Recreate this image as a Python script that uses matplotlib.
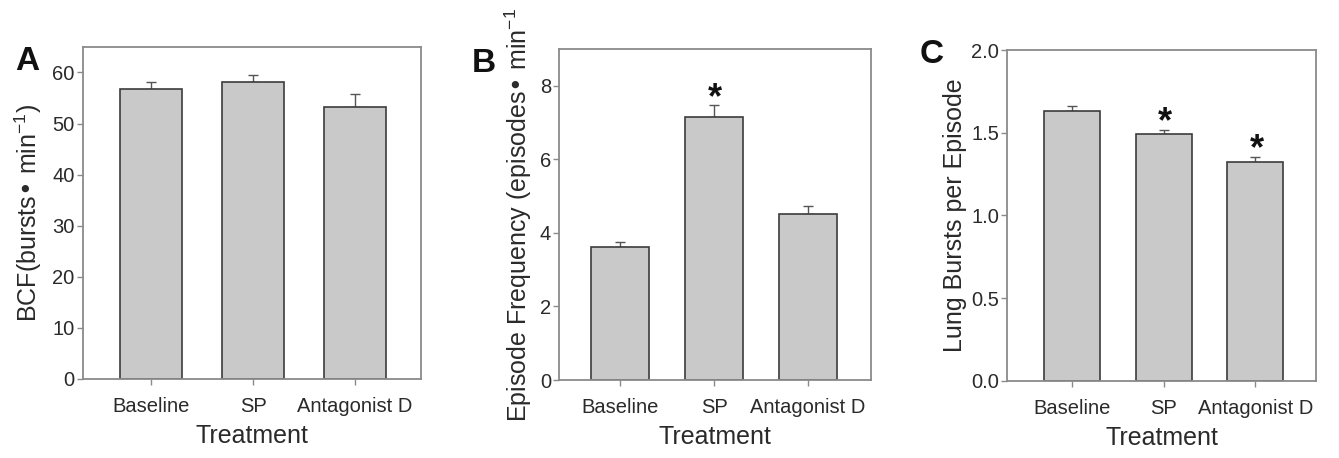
import numpy as np
import matplotlib
matplotlib.use("Agg")
import matplotlib.pyplot as plt

plt.rcParams['font.family'] = ['Liberation Sans', 'DejaVu Sans']
plt.rcParams['mathtext.default'] = 'regular'

# ── data ──
treatments = ["Baseline", "SP", "Antagonist D"]

bcf_mean = [56.7, 58.1, 53.3]
bcf_sem = [1.4, 1.4, 2.5]

episode_mean = [3.62, 7.15, 4.52]
episode_sem = [0.13, 0.33, 0.21]

bursts_mean = [1.633, 1.49, 1.325]
bursts_sem = [0.029, 0.027, 0.030]

sig_episode = [False, True, False]
sig_bursts = [False, True, True]

BAR_FC = "#c9c9c9"
BAR_EC = "#3c3c3c"
SPINE = "#8a8a8a"
TXT = "#2a2a2a"

fig = plt.figure(figsize=(13.39, 4.58), dpi=100)

panels = [
    # letter, rect, means, sems, sig, ylim, yticks, ylabel, xlim, letter pos, labelpad
    ("A", [0.062, 0.1725, 0.2524, 0.725], bcf_mean, bcf_sem, None,
     (0, 65), [0, 10, 20, 30, 40, 50, 60], "BCF(bursts\u2022 min$^{-1}$)",
     (-0.667, 2.647), (0.011, 0.847), 6),
    ("B", [0.4177, 0.1703, 0.2326, 0.7227], episode_mean, episode_sem, sig_episode,
     (0, 9), [0, 2, 4, 6, 8], "Episode Frequency (episodes\u2022 min$^{-1}$",
     (-0.646, 2.667), (0.352, 0.843), 4),
    ("C", [0.7523, 0.1688, 0.2303, 0.722], bursts_mean, bursts_sem, sig_bursts,
     (0, 2.0), [0.0, 0.5, 1.0, 1.5, 2.0], "Lung Bursts per Episode",
     (-0.706, 2.66), (0.687, 0.862), 3),
]

for letter, rect, means, sems, sig, ylim, yticks, ylabel, xlim, lpos, lpad in panels:
    ax = fig.add_axes(rect)
    x = np.arange(len(treatments))
    ax.bar(x, means, width=0.61, color=BAR_FC, edgecolor=BAR_EC, linewidth=1.2,
           zorder=2)
    ax.errorbar(x, means, yerr=[np.zeros(len(means)), sems], fmt="none",
                ecolor="#555555", elinewidth=1.0, capsize=3.5, capthick=1.0,
                zorder=1)
    if sig is not None:
        for xi, m, s, flag in zip(x, means, sems, sig):
            if flag:
                ax.annotate("*", (xi, m + s), xytext=(1, -2),
                            textcoords="offset points", ha="center",
                            va="baseline", fontsize=26, fontweight="bold",
                            color="#111111")
    ax.set_xlim(*xlim)
    ax.set_ylim(*ylim)
    ax.set_yticks(yticks)
    if letter == "C":
        ax.set_yticklabels([f"{t:.1f}" for t in yticks])
    ax.set_xticks(x)
    ax.set_xticklabels(treatments)
    for sp in ax.spines.values():
        sp.set_color(SPINE)
        sp.set_linewidth(1.3)
    ax.tick_params(axis="both", direction="out", length=4, width=1.0,
                   color=SPINE, labelsize=14.5, labelcolor=TXT)
    ax.tick_params(axis="y", pad=2)
    ax.tick_params(axis="x", pad=9)
    ax.set_ylabel(ylabel, fontsize=18, color=TXT, labelpad=lpad)
    ax.set_xlabel("Treatment", fontsize=18, color=TXT, labelpad=6)
    fig.text(lpos[0], lpos[1], letter, fontsize=24, fontweight="bold",
             color="#111111", va="baseline")

fig.savefig("out.png", dpi=100)
